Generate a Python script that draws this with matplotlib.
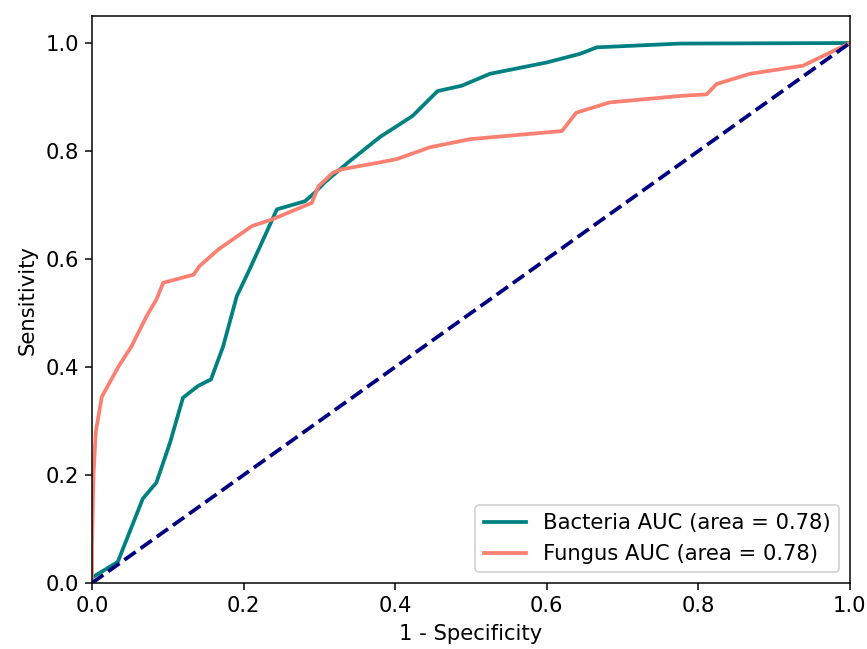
import numpy as np
import matplotlib
matplotlib.use("Agg")
import matplotlib.pyplot as plt

# ROC curve points
fpr_bacteria = [0.0, 0.034, 0.067, 0.085, 0.103, 0.12, 0.14, 0.157, 0.173, 0.191,
                0.208, 0.244, 0.281, 0.294, 0.307, 0.338, 0.38, 0.423, 0.456, 0.488,
                0.525, 0.6, 0.644, 0.666, 0.776, 1.0]
tpr_bacteria = [0.01, 0.039, 0.156, 0.186, 0.26, 0.343, 0.365, 0.377, 0.438, 0.531,
                0.581, 0.692, 0.707, 0.723, 0.742, 0.779, 0.826, 0.865, 0.911, 0.921,
                0.943, 0.964, 0.98, 0.992, 0.999, 1.0]

fpr_fungus = [0.0, 0.0, 0.002, 0.005, 0.013, 0.035, 0.052, 0.072, 0.085, 0.094,
              0.134, 0.142, 0.167, 0.211, 0.237, 0.29, 0.299, 0.318, 0.329, 0.38,
              0.402, 0.446, 0.499, 0.62, 0.639, 0.683, 0.776, 0.811, 0.824, 0.868,
              0.938, 1.0]
tpr_fungus = [0.0, 0.07, 0.2, 0.28, 0.345, 0.401, 0.438, 0.494, 0.525, 0.556,
              0.571, 0.587, 0.618, 0.661, 0.673, 0.704, 0.735, 0.76, 0.766, 0.779,
              0.785, 0.807, 0.822, 0.837, 0.871, 0.89, 0.902, 0.905, 0.924, 0.943,
              0.958, 1.0]

auc_bacteria = 0.78
auc_fungus = 0.78

plt.rcParams['font.size'] = 11.3

fig = plt.figure(figsize=(867 / 135, 649 / 135), dpi=135)
ax = fig.add_axes([0.1061, 0.1017, 0.8742, 0.8736])

ax.plot(fpr_bacteria, tpr_bacteria, color='teal', lw=2,
        label='Bacteria AUC (area = %0.2f)' % auc_bacteria)
ax.plot(fpr_fungus, tpr_fungus, color='salmon', lw=2,
        label='Fungus AUC (area = %0.2f)' % auc_fungus)
ax.plot([0, 1], [0, 1], color='navy', lw=2, linestyle='--')

ax.set_xlim([0.0, 1.0])
ax.set_ylim([0.0, 1.05])
ax.set_xlabel('1 - Specificity')
ax.set_ylabel('Sensitivity')
ax.legend(loc="lower right")

fig.savefig("out.png", dpi=135)
